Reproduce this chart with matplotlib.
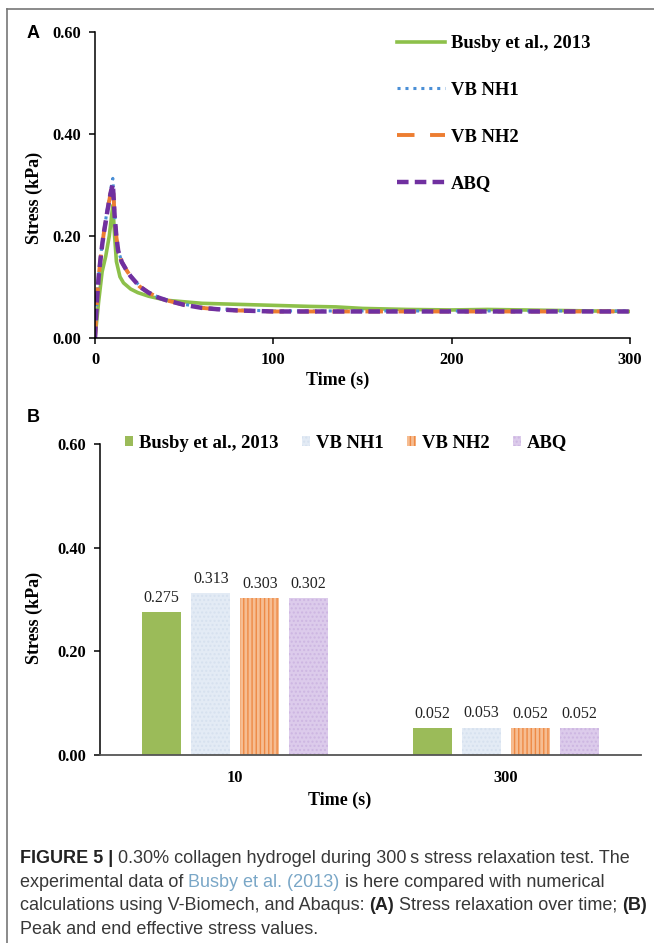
import matplotlib
matplotlib.use("Agg")
import matplotlib.pyplot as plt
from matplotlib.lines import Line2D
from matplotlib.ticker import FormatStrFormatter

# ---- data ----
series = ["Busby et al., 2013", "VB NH1", "VB NH2", "ABQ"]

t_exp = [0, 2, 4, 6, 8, 10, 11, 12, 14, 16, 20, 24, 30, 40, 50, 60, 80, 100,
         120, 135, 150, 175, 200, 220, 240, 260, 280, 300]
busby = [0, 0.07, 0.13, 0.16, 0.2, 0.26, 0.2, 0.15, 0.12, 0.108, 0.096, 0.089,
         0.082, 0.074, 0.071, 0.068, 0.066, 0.064, 0.062, 0.061, 0.058, 0.056,
         0.055, 0.056, 0.055, 0.054, 0.053, 0.052]

t_sim = [0, 1, 2, 3, 4, 5, 6, 7, 8, 9, 10, 11, 12, 13, 15, 18, 20, 25, 30, 35,
         40, 50, 60, 70, 80, 90, 100, 150, 200, 250, 300]
vb_nh1 = [0, 0.07, 0.12, 0.155, 0.185, 0.21, 0.232, 0.255, 0.275, 0.295, 0.313,
          0.245, 0.2, 0.172, 0.15, 0.132, 0.122, 0.102, 0.09, 0.081, 0.075,
          0.066, 0.06, 0.057, 0.055, 0.054, 0.053, 0.053, 0.053, 0.053, 0.053]
vb_nh2 = [0, 0.068, 0.118, 0.152, 0.182, 0.207, 0.228, 0.25, 0.27, 0.288, 0.303,
          0.24, 0.198, 0.171, 0.149, 0.131, 0.121, 0.101, 0.089, 0.08, 0.074,
          0.065, 0.059, 0.056, 0.054, 0.053, 0.052, 0.052, 0.052, 0.052, 0.052]
abq = [0, 0.068, 0.118, 0.152, 0.182, 0.207, 0.228, 0.25, 0.27, 0.288, 0.302,
       0.24, 0.198, 0.171, 0.149, 0.131, 0.121, 0.101, 0.089, 0.08, 0.074,
       0.065, 0.059, 0.056, 0.054, 0.053, 0.052, 0.052, 0.052, 0.052, 0.052]

bar_times = ["10", "300"]
bar_vals = {
    "Busby et al., 2013": [0.275, 0.052],
    "VB NH1": [0.313, 0.053],
    "VB NH2": [0.303, 0.052],
    "ABQ": [0.302, 0.052],
}

W, H = 654, 943
SERIF = "Liberation Serif"
SANS = "Liberation Sans"

plt.rcParams["font.family"] = SERIF
plt.rcParams["font.weight"] = "bold"
plt.rcParams["hatch.linewidth"] = 1.0


def fx(px):
    return px / W


def fy(py):
    return 1 - py / H


fig = plt.figure(figsize=(W / 100, H / 100), dpi=100)

# frame around the figure panel
fig.add_artist(Line2D([fx(7), fx(7)], [0, fy(9)], color="#777777", lw=1.2))
fig.add_artist(Line2D([fx(7), 1], [fy(9), fy(9)], color="#777777", lw=1.2))

# ---------------- panel A ----------------
axA = fig.add_axes([fx(95), fy(338), fx(630) - fx(95), fy(32) - fy(338)])
axA.plot(t_exp, busby, color="#8dc04a", lw=2.6, label=series[0])
axA.plot(t_sim, vb_nh1, color="#4a8fd6", lw=2.2, ls=(0, (1, 1.6)), label=series[1])
axA.plot(t_sim, vb_nh2, color="#ed7d31", lw=2.8, ls=(0, (4.5, 4)), label=series[2])
axA.plot(t_sim, abq, color="#7030a0", lw=3.2, ls=(0, (2.6, 1.4)), label=series[3])
axA.set_xlim(0, 300)
axA.set_ylim(0, 0.6)
axA.set_xticks([0, 100, 200, 300])
axA.set_yticks([0, 0.2, 0.4, 0.6])
axA.yaxis.set_major_formatter(FormatStrFormatter("%.2f"))
for s in ["top", "right"]:
    axA.spines[s].set_visible(False)
for s in ["left", "bottom"]:
    axA.spines[s].set_linewidth(1.1)
axA.tick_params(direction="out", length=4, width=1.1, labelsize=11.8, pad=6)
axA.text((34 - 95) / 535, (338 - 198) / 306, "Stress (kPa)", rotation=90,
         ha="center", va="center", fontsize=13, transform=axA.transAxes)
axA.text((338 - 95) / 535, (338 - 380) / 306, "Time (s)", ha="center",
         va="center", fontsize=13, transform=axA.transAxes)
axA.legend(loc="upper left", bbox_to_anchor=(fx(397), fy(35)),
           bbox_transform=fig.transFigure, frameon=False, fontsize=13.4,
           borderpad=0, borderaxespad=0, handlelength=2.6, handletextpad=0.3,
           labelspacing=1.6)
fig.text(fx(27), fy(33), "A", family=SANS, fontsize=13, ha="left", va="center")

# ---------------- panel B ----------------
axB = fig.add_axes([fx(100), fy(755), fx(641) - fx(100), fy(444) - fy(755)])
face = ["#9bbb59", "#e3ebf5", "#f6bd92", "#dccbeb"]
hatch_col = ["#9bbb59", "#d6e1ef", "#ee8a45", "#cdb6e2"]
hatches = [None, "....", "||||", "...."]
width = 0.144
pitch = 0.181
for i, name in enumerate(series):
    xs = [k + (i - 1.5) * pitch for k in range(len(bar_times))]
    bars = axB.bar(xs, bar_vals[name], width, color=face[i],
                   edgecolor=hatch_col[i], lw=0, hatch=hatches[i], label=name)
    for x, v in zip(xs, bar_vals[name]):
        axB.text(x, v + 0.012, f"{v:.3f}", ha="center", va="bottom",
                 fontsize=11.5, fontweight="normal", color="#222222")
axB.set_xlim(-0.5, 1.5)
axB.set_ylim(0, 0.6)
axB.set_xticks(range(len(bar_times)))
axB.set_xticklabels(bar_times)
axB.set_yticks([0, 0.2, 0.4, 0.6])
axB.yaxis.set_major_formatter(FormatStrFormatter("%.2f"))
for s in ["top", "right"]:
    axB.spines[s].set_visible(False)
axB.spines["left"].set_linewidth(1.1)
axB.spines["bottom"].set_linewidth(1.3)
axB.spines["bottom"].set_color("#555555")
axB.tick_params(axis="y", direction="out", length=4, width=1.1,
                labelsize=11.8, pad=6)
axB.tick_params(axis="x", length=0, labelsize=11.8, pad=11)
axB.text((34 - 100) / 541, (755 - 618) / 311, "Stress (kPa)", rotation=90,
         ha="center", va="center", fontsize=13, transform=axB.transAxes)
axB.text((340 - 100) / 541, (755 - 800) / 311, "Time (s)", ha="center",
         va="center", fontsize=13, transform=axB.transAxes)
axB.legend(loc="center left", bbox_to_anchor=(fx(125), fy(443)),
           bbox_transform=fig.transFigure, frameon=False, fontsize=13.4,
           ncol=4, borderpad=0, borderaxespad=0, handlelength=0.45,
           handleheight=0.45, handletextpad=0.32, columnspacing=1.25)
fig.text(fx(27), fy(418), "B", family=SANS, fontsize=13, ha="left", va="center")

# ---------------- caption ----------------
renderer = fig.canvas.get_renderer()
DARK = "#383838"
LINK = "#7aa7c7"
caption = [
    [("FIGURE 5 | ", "bold", "#222222"),
     ("0.30% collagen hydrogel during 300\u2009s stress relaxation test. The", "normal", DARK)],
    [("experimental data of ", "normal", DARK), ("Busby et al. (2013)", "normal", LINK),
     (" is here compared with numerical", "normal", DARK)],
    [("calculations using V-Biomech, and Abaqus: ", "normal", DARK), ("(A)", "bold", "#222222"),
     (" Stress relaxation over time; ", "normal", DARK), ("(B)", "bold", "#222222")],
    [("Peak and end effective stress values.", "normal", DARK)],
]
cap_size = 13.0
baselines = [863, 887, 910, 934]


def seg_width(s, weight):
    a = fig.text(0, 0, s + "|", family=SANS, fontsize=cap_size, fontweight=weight)
    b = fig.text(0, 0, "|", family=SANS, fontsize=cap_size, fontweight=weight)
    w = a.get_window_extent(renderer).width - b.get_window_extent(renderer).width
    a.remove()
    b.remove()
    return w


for line, yb in zip(caption, baselines):
    x = 20
    for s, weight, col in line:
        fig.text(fx(x), fy(yb), s, family=SANS, fontsize=cap_size,
                 fontweight=weight, color=col, va="baseline", ha="left")
        x += seg_width(s, weight)

fig.savefig("out.png", dpi=100)
